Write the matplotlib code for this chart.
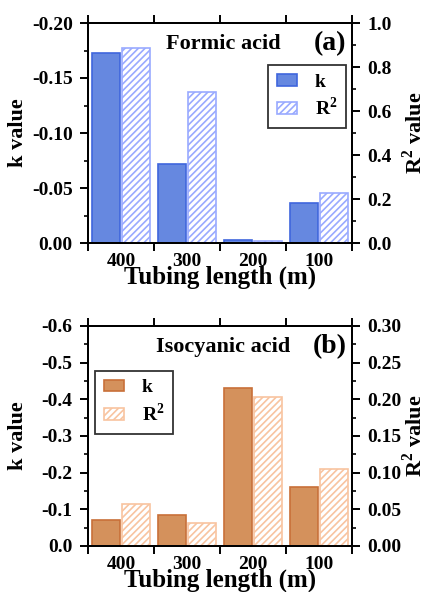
import matplotlib
matplotlib.use("Agg")
import matplotlib.pyplot as plt
import numpy as np
from matplotlib.patches import Patch
from matplotlib.ticker import MultipleLocator, FixedLocator, NullFormatter, FormatStrFormatter

# --- DATA ---
lengths = ["400", "300", "200", "100"]
formic_k = [-0.173, -0.072, -0.0024, -0.036]
formic_r2 = [0.887, 0.685, 0.008, 0.227]
isocyanic_k = [-0.071, -0.085, -0.430, -0.162]
isocyanic_r2 = [0.057, 0.031, 0.203, 0.105]

# --- STYLE ---
plt.rcParams['font.family'] = ['Liberation Serif', 'DejaVu Serif']
plt.rcParams['font.weight'] = 'bold'
plt.rcParams['mathtext.fontset'] = 'custom'
plt.rcParams['mathtext.rm'] = 'Liberation Serif:bold'
plt.rcParams['mathtext.bf'] = 'Liberation Serif:bold'
plt.rcParams['axes.unicode_minus'] = False
plt.rcParams['hatch.linewidth'] = 1.2

W, H = 429, 592
fig = plt.figure(figsize=(W / 100, H / 100), dpi=100)


def px_axes(left, top, right, bottom):
    return fig.add_axes([left / W, 1 - bottom / H, (right - left) / W, (bottom - top) / H])


def panel(ax, kvals, r2vals, kmax, kmajor, kfmt, r2max, r2major, r2fmt, colors,
          title, tag, leg_anchor, leg_loc):
    kfill, kedge, hatch_col = colors
    x = np.arange(len(lengths))
    bw = 0.43
    ax.bar(x - 0.225, kvals, width=bw, color=kfill, edgecolor=kedge, linewidth=1.2, zorder=2)
    ax.set_ylim(0, -kmax)
    ax.set_xlim(-0.5, len(lengths) - 0.5)
    ax.yaxis.set_major_locator(MultipleLocator(kmajor))
    ax.yaxis.set_minor_locator(MultipleLocator(kmajor / 2))
    ax.yaxis.set_major_formatter(FormatStrFormatter(kfmt))
    ax.set_ylabel("k value", fontsize=16, fontweight='bold')
    ax.yaxis.set_label_coords(-0.228, 0.5)

    ax2 = ax.twinx()
    ax2.bar(x + 0.225, r2vals, width=bw, facecolor='white', edgecolor=hatch_col,
            hatch='/////', linewidth=1.2, zorder=2)
    ax2.set_ylim(0, r2max)
    ax2.yaxis.set_major_locator(MultipleLocator(r2major))
    ax2.yaxis.set_minor_locator(MultipleLocator(r2major / 2))
    ax2.yaxis.set_major_formatter(FormatStrFormatter(r2fmt))
    ax2.set_ylabel("R$^2$ value", fontsize=16, fontweight='bold')
    ax2.yaxis.set_label_coords(1.19, 0.5)

    # category labels at centres, ticks at boundaries
    ax.xaxis.set_major_locator(FixedLocator(np.arange(-0.5, len(lengths), 1.0)))
    ax.xaxis.set_major_formatter(NullFormatter())
    ax.xaxis.set_minor_locator(FixedLocator(x))
    ax.set_xticklabels(lengths, minor=True)
    ax.tick_params(axis='x', which='minor', length=0, labelsize=14, pad=7)
    ax.tick_params(axis='x', which='major', direction='out', length=6, width=1.4, top=True)
    ax.set_xlabel("Tubing length (m)", fontsize=18, fontweight='bold')
    ax.xaxis.set_label_coords(0.5, -0.104)

    ax.tick_params(axis='y', which='major', direction='out', length=6, width=1.4,
                   labelsize=14, pad=5)
    ax2.tick_params(axis='y', which='major', direction='out', length=6, width=1.4,
                    labelsize=14, pad=5)
    for a in (ax, ax2):
        a.tick_params(axis='y', which='minor', direction='out', length=3, width=1.2)
        for s in a.spines.values():
            s.set_linewidth(1.4)

    ax2.text(0.511, 0.905, title, transform=ax.transAxes, ha='center', va='center',
             fontsize=16, fontweight='bold')
    ax2.text(0.917, 0.905, tag, transform=ax.transAxes, ha='center', va='center',
             fontsize=20, fontweight='bold')

    handles = [Patch(facecolor=kfill, edgecolor=kedge, linewidth=1.2),
               Patch(facecolor='white', edgecolor=hatch_col, hatch='/////', linewidth=1.2)]
    leg = ax2.legend(handles, ["k", "R$^2$"], loc=leg_loc, bbox_to_anchor=leg_anchor,
                     frameon=True, fancybox=False, edgecolor='black', fontsize=14,
                     handlelength=1.05, handleheight=0.55, handletextpad=0.9,
                     borderpad=0.45, labelspacing=0.3, borderaxespad=0)
    leg.get_frame().set_linewidth(1.3)
    leg.set_zorder(5)


ax_a = px_axes(88, 23, 352, 243)
panel(ax_a, formic_k, formic_r2, 0.20, 0.05, '%.2f', 1.0, 0.2, '%.1f',
      ('#6688e0', '#3f66dd', '#99aaff'), "Formic acid", "(a)",
      (0.977, 0.809), 'upper right')

ax_b = px_axes(88, 326, 352, 546)
panel(ax_b, isocyanic_k, isocyanic_r2, 0.60, 0.1, '%.1f', 0.30, 0.05, '%.2f',
      ('#d4915c', '#c87038', '#f8c4a0'), "Isocyanic acid", "(b)",
      (0.027, 0.797), 'upper left')

fig.savefig("out.png", dpi=100)
